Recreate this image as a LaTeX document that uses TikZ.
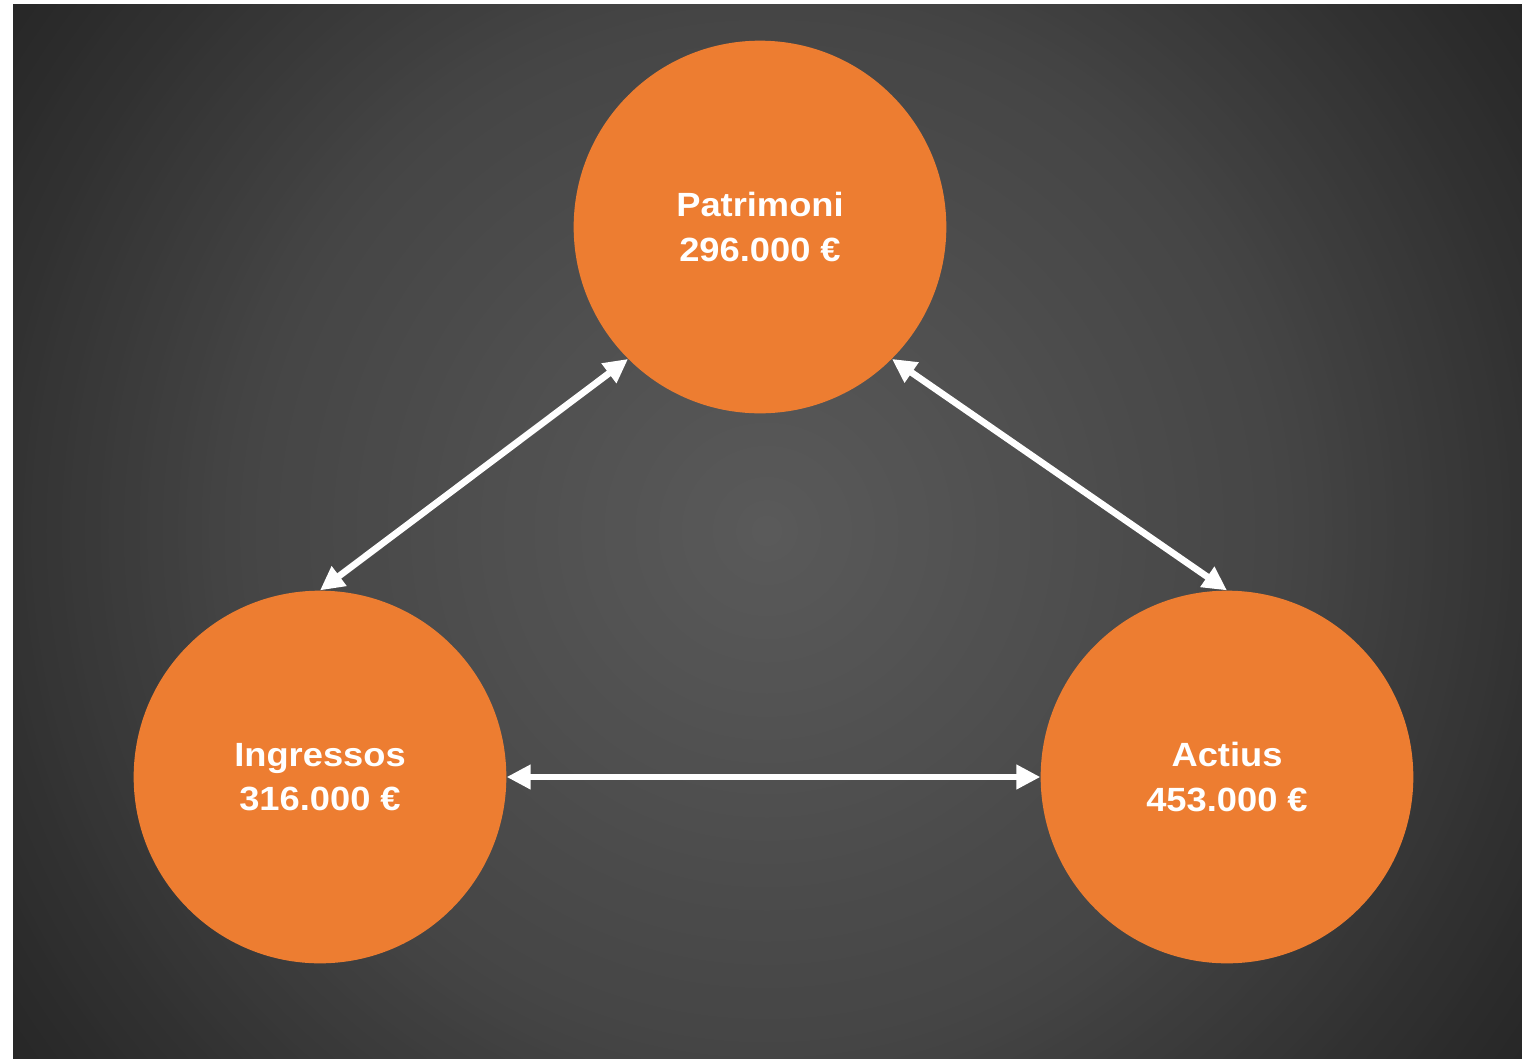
\documentclass[tikz,border=0pt]{standalone}
\usepackage{fontspec}
\usetikzlibrary{arrows.meta}
\newfontfamily\labfont[FakeStretch=1.08]{Liberation Sans Bold}
\definecolor{nodeorange}{HTML}{ED7D31}
\tikzset{
  bubble/.style={circle, fill=nodeorange, draw=none, inner sep=0pt, minimum size=279.5pt,
    text=white, align=center, font=\labfont\fontsize{25.2}{33.3}\selectfont},
  link/.style={draw=white, line width=5pt, {Triangle[length=18pt,width=17.5pt]}-{Triangle[length=18pt,width=17.5pt]}}
}
\begin{document}
\begin{tikzpicture}[x=0.75pt,y=-0.75pt]
\useasboundingbox (0,0) rectangle (1522,1058);
\fill[white] (0,0) rectangle (1522,1058);
\begin{scope}
\clip (13,4) rectangle (1522,1058);
\foreach \i in {0,...,119}{
  \pgfmathsetmacro{\rr}{930*(1-\i/120)}
  \pgfmathsetmacro{\vv}{(\rr<527 ? 90-(21/527)*\rr : (\rr<755 ? 69-(18/228)*(\rr-527) : 51-(12/165)*(\rr-755)))/255}
  \definecolor{bgtmp}{gray}{\vv}
  \fill[bgtmp] (767,531) circle[radius=\rr];
}
\end{scope}
\node[bubble] (P) at (760,227) {Patrimoni\\296.000 €};
\node[bubble] (I) at (320,777) {Ingressos\\316.000 €};
\node[bubble] (A) at (1227,777) {Actius\\453.000 €};
\draw[link] (P.225) -- (I.north);
\draw[link] (P.315) -- (A.north);
\draw[link] (I.east) -- (A.west);
\end{tikzpicture}
\end{document}
